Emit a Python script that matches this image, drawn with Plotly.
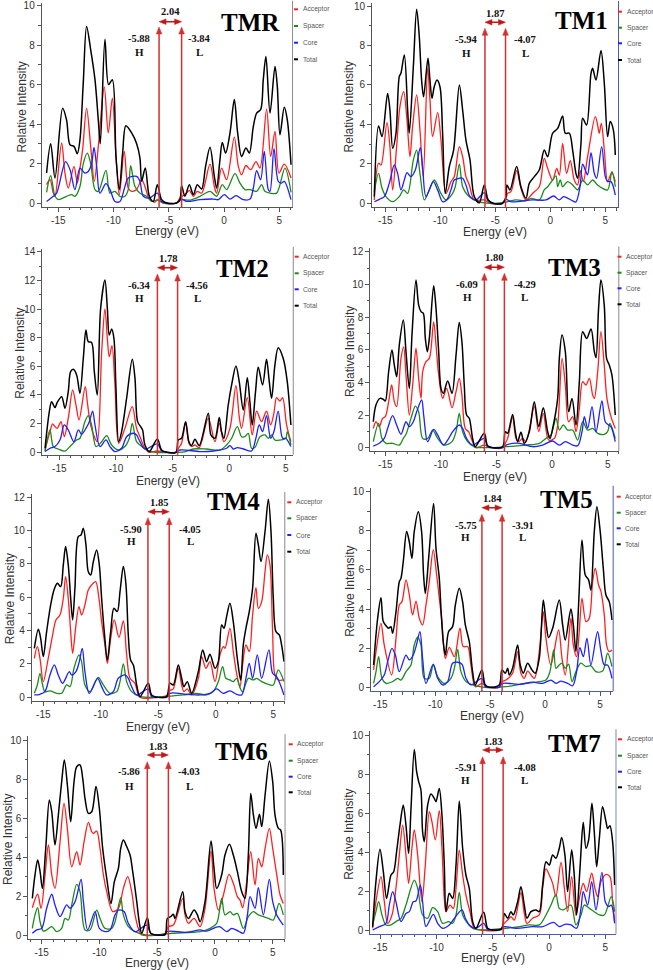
import plotly.graph_objects as go

# ---------------- data ----------------
PANELS = ["TMR", "TM1", "TM2", "TM3", "TM4", "TM5", "TM6", "TM7"]
SERIES = ["Acceptor", "Spacer", "Core", "Total"]
HOMO = [-5.88, -5.94, -6.34, -6.09, -5.90, -5.75, -5.86, -5.91]
LUMO = [-3.84, -4.07, -4.56, -4.29, -4.05, -3.91, -4.03, -4.08]
GAP = ["2.04", "1.87", "1.78", "1.80", "1.85", "1.84", "1.83", "1.83"]
HOMO_TXT = ["-5.88", "-5.94", "-6.34", "-6.09", "-5.90", "-5.75", "-5.86", "-5.91"]
LUMO_TXT = ["-3.84", "-4.07", "-4.56", "-4.29", "-4.05", "-3.91", "-4.03", "-4.08"]
X_TICKS = [-15, -10, -5, 0, 5]
X_TICK_TEXT = ["-15", "-10", "-5", "0", "5"]
Y_TOP_TICK = [10, 10, 14, 12, 12, 10, 10, 10]

TMR_total = [(-16.06,1.52),(-15.69,3.0),(-15.30,1.27),(-14.61,4.8),(-14.25,4.2),(-13.94,2.95),(-13.58,2.87),(-13.28,2.5),(-13.04,3.2),(-12.74,6.1),(-12.44,8.95),(-12.07,7.77),(-11.68,6.25),(-11.38,4.2),(-11.20,3.0),(-10.78,8.3),(-10.45,6.0),(-10.11,6.25),(-9.78,2.36),(-9.48,0.68),(-9.18,2.53),(-8.88,3.92),(-8.36,3.55),(-7.91,3.0),(-7.61,2.28),(-7.46,1.1),(-7.13,1.77),(-6.76,0.34),(-6.40,0.08),(-6.04,0.93),(-5.65,0.17),(-5.2,0),(-4.3,0),(-3.99,0.17),(-3.84,0.88),(-3.54,0.34),(-3.14,0.93),(-2.78,0.42),(-2.42,0.93),(-2.03,0.71),(-1.67,1.86),(-1.27,2.82),(-0.88,1.35),(-0.67,0.76),(-0.37,2.2),(-0.16,3.07),(0.14,2.53),(0.54,3.55),(0.93,5.24),(1.23,3.55),(1.59,2.36),(1.98,2.79),(2.29,2.53),(2.65,3.88),(2.95,4.56),(3.31,4.73),(3.55,6.25),(3.79,7.43),(4.16,4.56),(4.61,6.92),(4.82,5.9),(5.06,3.46),(5.45,4.85),(5.72,4.22),(6.06,1.94)]
TMR_acceptor = [(-16.06,0.93),(-15.75,1.18),(-15.45,0.5),(-15.30,0.34),(-14.70,3.04),(-14.40,1.52),(-14.10,0.76),(-13.58,1.86),(-13.28,1.01),(-13.04,1.77),(-12.80,2.7),(-12.44,4.81),(-12.07,2.87),(-11.74,1.1),(-11.38,2.87),(-10.84,5.88),(-10.48,3.55),(-10.11,5.32),(-9.78,2.36),(-9.48,0.42),(-9.03,2.62),(-8.67,0.76),(-8.36,0.59),(-7.91,0.68),(-7.46,1.18),(-7.16,0.84),(-6.76,0.2),(-6.25,0.05),(-6.04,0.17),(-5.5,0),(-4.3,0),(-3.99,0.25),(-3.78,0.34),(-3.39,0.5),(-3.14,0.64),(-2.78,0.34),(-2.42,0.59),(-2.03,0.5),(-1.27,1.97),(-0.88,0.84),(-0.67,0.5),(-0.22,1.77),(0.23,1.18),(0.93,3.34),(1.29,1.86),(1.59,1.43),(1.98,1.9),(2.41,1.69),(2.89,2.1),(3.25,1.77),(3.85,4.76),(4.22,2.36),(4.61,3.63),(4.97,1.52),(5.45,1.97),(6.06,1.27)]
TMR_spacer = [(-16.06,0.54),(-15.69,1.38),(-15.30,0.34),(-15.0,0.17),(-14.25,0.34),(-13.79,0.42),(-13.49,0.34),(-13.04,0.84),(-12.74,2.0),(-12.38,2.53),(-12.07,2.0),(-11.68,0.68),(-11.38,0.59),(-10.69,1.65),(-10.32,0.5),(-9.87,0.59),(-9.42,0.34),(-8.97,0.34),(-8.67,0.68),(-8.45,1.89),(-8.06,0.84),(-7.61,0.5),(-7.01,0.34),(-6.55,0.08),(-6.04,0.15),(-5.5,0),(-4.3,0),(-3.84,0.17),(-3.08,0.15),(-2.18,0.34),(-1.27,0.59),(-0.67,0.34),(-0.16,0.93),(0.23,0.68),(0.99,1.49),(1.44,1.01),(1.89,0.68),(2.35,0.68),(2.95,0.59),(3.40,0.93),(3.70,0.59),(4.16,0.5),(4.76,0.5),(5.51,1.77),(6.06,0.54)]
TMR_core = [(-16.06,0.08),(-15.45,0.34),(-15.15,0.5),(-14.34,2.1),(-13.94,1.69),(-13.49,0.68),(-13.04,1.77),(-12.59,1.52),(-12.29,1.6),(-11.98,2.0),(-11.77,2.82),(-11.53,1.86),(-11.23,0.5),(-10.69,0.98),(-10.32,0.68),(-9.87,0.08),(-9.42,0.08),(-8.97,0.84),(-8.67,1.27),(-7.91,1.35),(-7.61,1.1),(-7.31,0.34),(-6.76,0.25),(-6.04,0.5),(-5.65,0.08),(-5.2,0),(-4.3,0),(-3.84,0.2),(-3.39,0.08),(-2.18,0.17),(-0.97,0.2),(-0.52,0.17),(0.02,0.42),(0.54,0.2),(1.08,0.37),(1.74,0.17),(2.35,0.2),(2.65,0.76),(2.95,1.64),(3.31,1.18),(3.64,2.62),(4.0,0.68),(4.16,0.59),(4.52,2.75),(4.91,1.1),(5.21,1.01),(5.45,1.1),(6.06,0.17)]

TM1_total = [(-16.0,0.34),(-15.61,3.92),(-15.30,3.38),(-14.79,5.57),(-14.58,4.73),(-14.33,2.79),(-14.03,3.55),(-13.73,6.42),(-13.58,6.59),(-13.27,7.52),(-12.97,4.73),(-12.82,3.55),(-12.45,6.93),(-12.15,9.83),(-11.91,8.45),(-11.70,6.25),(-11.52,5.4),(-11.12,7.35),(-10.94,6.25),(-10.76,5.32),(-10.55,5.91),(-10.30,6.25),(-10.03,5.91),(-9.79,3.55),(-9.55,0.5),(-9.18,1.86),(-8.79,2.7),(-8.27,6.0),(-7.97,4.73),(-7.67,3.2),(-7.30,2.2),(-6.91,0.34),(-6.45,0.03),(-6.0,0.93),(-5.64,0.17),(-5.2,0),(-4.33,0),(-4.03,0.34),(-3.94,0.93),(-3.67,0.68),(-3.06,1.86),(-2.67,0.84),(-2.21,0.25),(-1.91,1.01),(-1.45,1.35),(-1.0,1.69),(-0.55,2.7),(-0.24,2.36),(0.21,3.55),(0.67,3.8),(1.12,4.43),(1.36,3.55),(1.73,3.55),(2.03,2.7),(2.33,1.52),(2.48,1.27),(2.79,3.04),(2.94,4.31),(3.30,3.97),(3.70,6.59),(3.85,6.84),(4.15,6.25),(4.61,7.74),(4.91,6.08),(5.21,3.38),(5.45,4.14),(5.73,3.72),(5.91,2.45)]
TM1_acceptor = [(-16.0,0.17),(-15.61,2.03),(-15.39,1.94),(-14.85,4.09),(-14.58,2.87),(-14.33,0.68),(-13.97,2.87),(-13.67,4.9),(-13.33,5.66),(-13.03,4.22),(-12.76,2.36),(-12.52,3.88),(-12.15,5.49),(-11.85,3.72),(-11.55,1.35),(-11.15,6.84),(-10.94,5.24),(-10.70,3.38),(-10.24,4.6),(-9.94,3.21),(-9.48,0.5),(-9.03,1.1),(-8.73,1.35),(-8.27,2.87),(-7.97,2.36),(-7.67,1.35),(-7.36,0.93),(-6.91,0.17),(-6.0,0.17),(-5.5,0),(-4.4,0),(-4.03,0.25),(-3.88,0.5),(-3.58,0.59),(-3.06,1.66),(-2.67,0.76),(-2.21,0.17),(-1.61,0.5),(-1.0,0.84),(-0.55,2.28),(-0.24,1.77),(0.21,1.18),(0.58,1.77),(0.82,1.43),(1.12,3.04),(1.48,1.52),(1.82,2.16),(2.18,1.18),(2.48,0.93),(2.73,1.66),(3.0,1.1),(3.39,2.36),(4.09,4.39),(4.30,3.97),(4.45,3.55),(4.64,4.05),(4.91,2.7),(5.21,1.1),(5.58,1.55),(5.91,1.1)]
TM1_spacer = [(-16.0,0.59),(-15.61,1.52),(-15.30,0.76),(-14.94,0.34),(-14.33,0.08),(-13.73,0.34),(-13.33,0.68),(-12.97,0.5),(-12.45,2.2),(-12.15,2.7),(-11.85,1.52),(-11.45,0.17),(-11.0,0.68),(-10.55,1.18),(-9.94,0.5),(-9.48,0.17),(-8.88,0.5),(-8.64,0.84),(-8.27,1.99),(-7.97,0.84),(-7.52,0.42),(-6.91,0.17),(-6.3,0.05),(-5.0,0),(-3.88,0.08),(-3.12,0.17),(-2.21,0.13),(-1.76,0.25),(-1.0,0.17),(-0.55,0.68),(-0.24,0.84),(0.21,1.18),(0.52,1.39),(0.67,0.84),(0.91,1.18),(1.12,0.84),(1.58,1.1),(2.03,0.93),(2.48,0.68),(2.94,1.18),(3.39,0.93),(3.85,1.18),(4.30,0.93),(4.76,0.76),(5.21,0.68),(5.61,1.6),(5.91,0.84)]
TM1_core = [(-16.0,0.08),(-15.55,0.2),(-15.09,0.34),(-14.64,1.01),(-14.18,1.94),(-13.88,1.52),(-13.58,0.68),(-13.27,1.18),(-13.03,1.55),(-12.67,1.35),(-12.27,1.69),(-11.82,2.82),(-11.61,1.86),(-11.30,0.34),(-10.64,1.1),(-10.24,0.68),(-9.79,0.08),(-9.42,0.17),(-9.03,0.68),(-8.73,1.18),(-8.27,1.27),(-7.97,1.27),(-7.67,0.93),(-7.30,0.34),(-6.76,0.17),(-6.0,0.54),(-5.70,0.17),(-5.2,0),(-4.4,0),(-4.03,0.2),(-3.58,0.08),(-1.61,0.17),(-0.39,0.17),(0.30,0.37),(0.82,0.17),(1.21,0.34),(2.03,0.12),(2.33,0.07),(2.70,0.84),(2.94,1.98),(3.24,1.6),(3.39,1.44),(3.70,2.57),(4.0,1.52),(4.21,1.27),(4.67,2.87),(5.0,1.35),(5.21,1.1),(5.52,1.1),(5.91,0.42)]

TM2_total = [(-16.26,0.28),(-15.88,2.84),(-15.68,3.53),(-15.38,3.12),(-15.18,3.49),(-14.79,3.88),(-14.50,3.07),(-14.21,4.23),(-14.0,5.63),(-13.76,5.79),(-13.47,5.4),(-13.18,4.12),(-12.88,6.56),(-12.65,8.53),(-12.44,7.72),(-12.15,7.67),(-11.91,5.63),(-11.65,4.0),(-11.35,10.05),(-10.97,12.02),(-10.76,10.05),(-10.59,8.19),(-10.38,8.6),(-10.18,7.95),(-10.0,4.47),(-9.76,0.74),(-9.5,1.44),(-9.06,3.77),(-8.56,6.49),(-8.32,5.16),(-8.09,2.14),(-7.82,1.79),(-7.65,1.56),(-7.44,0.51),(-7.06,0.05),(-6.35,0.93),(-5.97,0.16),(-5.5,0),(-4.71,0),(-4.5,0.86),(-4.21,0.98),(-3.85,2.14),(-3.56,0.74),(-3.32,0.47),(-3.03,0.91),(-2.65,0.47),(-1.85,2.72),(-1.62,1.21),(-1.26,0.98),(-0.88,2.42),(-0.68,1.44),(-0.47,0.98),(-0.09,3.3),(0.21,4.7),(0.59,6.02),(0.88,4.93),(1.24,2.95),(1.59,5.21),(1.82,3.53),(2.03,1.91),(2.32,4.23),(2.56,5.93),(2.94,4.7),(3.29,6.49),(3.53,4.93),(3.74,3.77),(4.03,6.09),(4.32,7.3),(4.76,6.56),(5.12,4.93),(5.44,1.91)]
TM2_acceptor = [(-16.26,0.16),(-15.82,1.44),(-15.59,1.98),(-15.38,1.79),(-15.18,1.67),(-14.85,2.14),(-14.56,1.09),(-14.21,2.37),(-13.82,4.35),(-13.53,3.3),(-13.26,2.26),(-12.71,4.58),(-12.53,3.53),(-12.24,1.91),(-11.85,0.98),(-11.65,0.74),(-11.26,7.02),(-10.97,10.0),(-10.76,7.95),(-10.59,6.67),(-10.35,7.44),(-10.09,4.7),(-9.76,0.63),(-9.21,1.67),(-8.56,3.19),(-8.18,1.67),(-7.82,0.98),(-7.53,0.4),(-7.06,0),(-6.35,0.09),(-5.5,0),(-4.71,0),(-4.5,0.28),(-4.21,0.63),(-3.85,2.09),(-3.56,0.63),(-3.32,0.4),(-3.03,0.51),(-2.65,0.33),(-1.85,2.37),(-1.26,0.74),(-0.88,2.02),(-0.47,0.74),(0.06,1.67),(0.59,4.65),(0.88,2.49),(1.09,1.67),(1.59,3.81),(2.03,1.21),(2.41,2.88),(2.85,2.14),(3.29,2.88),(3.65,1.91),(3.94,2.72),(4.18,3.81),(4.47,3.58),(4.71,3.81),(5.06,1.91),(5.44,0.74)]
TM2_spacer = [(-16.26,0.05),(-15.82,1.56),(-15.53,0.4),(-15.09,0.23),(-14.50,0.09),(-14.06,0.4),(-13.47,0.86),(-13.18,0.98),(-12.74,2.14),(-12.44,2.56),(-12.15,1.91),(-11.76,0.4),(-11.26,0.74),(-10.82,1.16),(-10.38,0.51),(-9.79,0.16),(-9.21,0.4),(-8.82,0.98),(-8.56,2.02),(-8.18,0.74),(-7.88,0.51),(-7.29,0.16),(-6.5,0),(-4.5,0),(-3.85,0.05),(-3.18,0.23),(-2.0,0.23),(-0.82,0.16),(-0.24,0.51),(0.21,0.98),(0.71,1.79),(1.09,1.09),(1.38,1.09),(1.68,1.32),(1.97,0.28),(2.26,0.33),(2.71,1.09),(3.15,1.21),(3.44,0.98),(3.74,1.21),(4.03,0.86),(4.62,0.86),(5.0,0.98),(5.12,1.44),(5.44,0.51)]
TM2_core = [(-16.26,0.05),(-15.82,0.28),(-15.38,0.4),(-14.94,0.86),(-14.56,1.91),(-14.21,1.56),(-13.71,0.74),(-13.32,1.56),(-13.03,1.26),(-12.65,1.67),(-12.35,2.14),(-12.06,2.88),(-11.85,1.91),(-11.41,0.4),(-10.88,0.86),(-10.53,0.4),(-10.09,0.05),(-9.5,0.28),(-9.06,1.09),(-8.47,1.33),(-8.18,1.21),(-7.88,0.74),(-7.44,0.23),(-6.35,0.58),(-5.97,0.09),(-5.5,0),(-4.71,0),(-4.35,0.16),(-2.59,0.05),(-1.41,0.09),(-0.24,0.28),(0.06,0.47),(0.35,0.23),(0.71,0.33),(1.24,0.23),(1.97,0.09),(2.35,0.98),(2.65,1.91),(2.94,1.44),(3.29,2.56),(3.65,0.98),(3.94,1.44),(4.32,2.88),(4.71,0.98),(5.0,0.98),(5.21,0.74),(5.44,0.4)]

TM3_total = [(-16.08,1.59),(-15.84,2.61),(-15.48,3.02),(-15.18,2.96),(-15.0,2.86),(-14.70,4.65),(-14.40,5.98),(-14.19,5.06),(-13.98,4.35),(-13.74,6.29),(-13.38,7.82),(-13.14,5.88),(-12.84,3.63),(-12.60,6.9),(-12.24,10.27),(-12.0,8.73),(-11.79,8.33),(-11.58,8.22),(-11.40,6.69),(-11.22,5.88),(-11.04,6.69),(-10.65,9.92),(-10.44,8.53),(-10.20,5.88),(-9.99,3.63),(-9.78,3.33),(-9.39,4.08),(-9.0,3.33),(-8.64,5.67),(-8.35,7.67),(-8.11,6.49),(-7.90,3.84),(-7.69,2.0),(-7.45,1.8),(-7.15,0.57),(-6.91,0.06),(-6.10,0.88),(-5.80,0.12),(-5.3,0),(-4.45,0.06),(-4.21,0.98),(-4.0,0.88),(-3.55,2.04),(-3.31,0.98),(-3.10,0.37),(-2.80,0.94),(-2.50,0.27),(-2.05,0.98),(-1.60,2.82),(-1.21,1.29),(-0.79,2.45),(-0.40,0.98),(-0.19,0.57),(0.05,1.18),(0.50,3.02),(0.65,5.47),(0.89,6.9),(1.19,5.88),(1.49,2.2),(1.79,3.02),(2.15,1.39),(2.45,4.04),(2.75,7.1),(3.11,6.69),(3.50,7.27),(3.80,5.88),(3.95,5.51),(4.18,8.53),(4.39,10.27),(4.69,8.73),(4.90,5.47),(5.14,5.06),(5.38,4.45),(5.68,2.0)]
TM3_acceptor = [(-16.08,1.18),(-15.84,1.59),(-15.54,1.29),(-15.24,1.8),(-15.0,1.9),(-14.70,2.82),(-14.43,3.84),(-14.19,2.82),(-13.98,2.51),(-13.59,5.47),(-13.35,6.18),(-13.14,4.45),(-12.84,2.0),(-12.54,3.84),(-12.24,6.08),(-12.0,4.24),(-11.79,3.02),(-11.64,4.65),(-11.34,5.27),(-11.04,5.47),(-10.65,7.71),(-10.44,6.29),(-10.20,4.45),(-9.84,3.02),(-9.48,3.63),(-9.0,2.45),(-8.64,3.43),(-8.35,4.24),(-8.11,3.22),(-7.81,1.18),(-7.51,0.98),(-7.15,0.37),(-6.85,0),(-6.10,0.16),(-5.5,0),(-4.45,0),(-4.21,0.27),(-4.0,0.57),(-3.55,1.84),(-3.25,0.57),(-3.01,0.37),(-2.65,0.57),(-2.35,0.37),(-1.60,2.51),(-1.21,0.98),(-0.79,2.1),(-0.31,0.47),(0.20,0.57),(0.50,1.39),(0.89,5.47),(1.19,3.84),(1.49,1.59),(1.85,1.9),(2.15,0.98),(2.45,2.41),(2.75,4.04),(3.05,3.84),(3.35,4.24),(3.65,3.22),(3.80,3.02),(4.10,4.65),(4.39,7.1),(4.69,5.06),(4.93,3.02),(5.29,1.9),(5.68,1.18)]
TM3_spacer = [(-16.08,0.37),(-15.60,1.49),(-15.30,0.57),(-14.94,0.27),(-14.34,0.27),(-13.74,0.16),(-13.38,0.57),(-13.14,0.82),(-12.69,1.8),(-12.30,2.55),(-12.0,2.2),(-11.64,0.57),(-11.19,0.57),(-10.74,1.08),(-10.29,0.57),(-9.69,0.16),(-9.0,0.37),(-8.64,0.98),(-8.35,2.1),(-8.05,0.98),(-7.60,0.37),(-7.0,0.05),(-6.0,0),(-4.15,0.06),(-2.35,0.16),(-1.15,0.27),(-0.55,0.57),(-0.10,0.78),(0.35,1.8),(0.65,1.08),(1.01,1.39),(1.40,1.08),(1.85,1.08),(2.30,0.47),(2.75,1.59),(3.20,1.08),(3.65,1.18),(4.10,0.88),(4.69,0.82),(4.99,0.98),(5.20,1.49),(5.68,0.57)]
TM3_core = [(-16.08,0.1),(-15.54,0.27),(-15.09,0.57),(-14.79,1.18),(-14.34,1.96),(-13.98,1.39),(-13.59,0.82),(-13.14,1.59),(-12.84,1.29),(-12.48,1.59),(-12.18,2.2),(-11.73,2.92),(-11.55,2.0),(-11.19,0.37),(-10.65,1.12),(-10.29,0.78),(-9.78,0.16),(-9.39,0.47),(-8.94,0.98),(-8.35,1.39),(-8.05,1.18),(-7.69,0.57),(-7.15,0.16),(-6.10,0.57),(-5.80,0.06),(-5.3,0),(-4.45,0),(-4.15,0.16),(-2.95,0.27),(-1.75,0.06),(-0.85,0.16),(0.05,0.41),(0.65,0.16),(1.19,0.37),(1.85,0.16),(2.30,0.12),(2.69,0.98),(2.90,1.9),(3.20,1.18),(3.59,2.51),(3.95,0.98),(4.48,2.86),(4.78,1.59),(5.08,1.39),(5.29,1.29),(5.68,0.37)]

TM4_total = [(-15.78,2.94),(-15.43,4.08),(-15.23,3.54),(-15.0,2.44),(-14.71,3.94),(-14.36,5.54),(-14.07,6.44),(-13.78,6.84),(-13.49,6.64),(-13.26,7.94),(-13.06,9.04),(-12.83,7.94),(-12.62,5.94),(-12.45,4.64),(-12.25,6.54),(-11.96,9.64),(-11.72,9.74),(-11.52,10.14),(-11.29,9.14),(-11.09,7.54),(-10.88,7.34),(-10.65,8.14),(-10.36,8.84),(-10.13,7.94),(-9.93,5.94),(-9.70,3.94),(-9.43,2.24),(-9.14,3.94),(-8.86,5.34),(-8.57,5.14),(-8.33,6.34),(-8.04,7.84),(-7.81,6.74),(-7.61,3.74),(-7.41,2.24),(-7.17,1.94),(-6.88,0.74),(-6.59,0.04),(-5.87,0.84),(-5.58,0.14),(-5.0,0),(-4.28,0.04),(-3.99,0.84),(-3.70,0.74),(-3.26,1.94),(-2.97,1.14),(-2.77,0.64),(-2.48,0.94),(-2.10,0.24),(-1.52,1.54),(-1.14,2.84),(-0.80,2.14),(-0.51,2.58),(-0.07,1.74),(0.22,2.14),(0.51,4.34),(0.71,4.14),(0.94,4.84),(1.23,5.64),(1.52,4.54),(1.87,2.34),(2.16,1.04),(2.39,3.14),(2.62,4.14),(2.91,5.14),(3.20,6.54),(3.49,9.84),(3.70,9.14),(3.93,8.14),(4.28,9.94),(4.57,11.88),(4.80,9.94),(5.0,5.94),(5.23,3.94),(5.52,3.74),(5.72,3.14),(5.93,2.14)]
TM4_acceptor = [(-15.78,2.34),(-15.52,3.04),(-15.29,2.34),(-15.0,0.94),(-14.57,2.34),(-14.19,3.74),(-13.90,4.64),(-13.55,4.94),(-13.26,5.94),(-13.06,7.24),(-12.83,5.94),(-12.62,3.94),(-12.45,2.64),(-12.16,4.34),(-11.90,5.44),(-11.67,4.94),(-11.38,5.54),(-11.09,6.44),(-10.80,6.74),(-10.45,6.94),(-10.16,5.94),(-9.93,4.54),(-9.64,3.14),(-9.43,2.04),(-9.14,3.54),(-8.83,4.64),(-8.42,3.6),(-8.04,4.58),(-7.75,2.54),(-7.46,1.14),(-7.03,0.84),(-6.59,0),(-5.0,0),(-4.28,0.1),(-3.99,0.4),(-3.70,0.5),(-3.26,1.74),(-2.97,0.74),(-2.77,0.34),(-2.48,0.5),(-2.10,0.14),(-1.52,1.14),(-1.23,2.44),(-0.86,1.74),(-0.51,2.14),(-0.07,0.94),(0.36,2.54),(0.65,3.04),(0.80,2.94),(1.23,4.14),(1.52,2.74),(1.81,1.44),(2.10,0.64),(2.33,1.94),(2.62,3.14),(2.91,2.74),(3.20,4.94),(3.49,6.58),(3.70,5.34),(3.99,5.74),(4.28,7.54),(4.48,8.54),(4.71,7.94),(4.94,3.94),(5.14,1.34),(5.43,1.04),(5.93,1.04)]
TM4_spacer = [(-15.78,0.24),(-15.52,0.74),(-15.29,1.44),(-15.06,0.74),(-14.86,0.34),(-14.42,0.38),(-13.84,0.24),(-13.41,0.24),(-12.97,0.74),(-12.68,0.64),(-12.33,1.74),(-11.90,2.54),(-11.67,2.14),(-11.38,0.74),(-10.94,0.34),(-10.22,1.2),(-9.78,0.74),(-9.20,0.24),(-8.62,0.34),(-8.33,0.94),(-8.04,2.0),(-7.75,0.94),(-7.32,0.34),(-6.6,0.05),(-5.0,0),(-4.28,0.04),(-2.83,0.14),(-1.67,0.24),(-0.80,0.14),(-0.22,0.34),(0.22,0.94),(0.59,1.84),(0.88,1.14),(1.23,1.04),(1.52,0.94),(1.81,1.14),(2.10,0.58),(2.33,0.34),(2.83,1.14),(3.26,1.04),(3.55,1.14),(3.99,0.94),(4.71,0.74),(5.0,0.74),(5.43,1.64),(5.93,0.94)]
TM4_core = [(-15.78,0.14),(-15.29,0.18),(-14.86,0.34),(-14.42,1.34),(-14.04,1.94),(-13.70,1.34),(-13.32,0.84),(-12.74,1.54),(-12.54,1.34),(-12.16,1.54),(-11.87,2.14),(-11.61,2.94),(-11.38,1.54),(-11.0,0.24),(-10.28,1.14),(-9.93,0.64),(-9.49,0.14),(-8.91,0.34),(-8.48,1.14),(-7.90,1.34),(-7.61,1.14),(-7.32,0.64),(-6.88,0.14),(-5.87,0.5),(-5.58,0.04),(-5.0,0),(-4.28,0),(-3.99,0.24),(-2.54,0.18),(-1.38,0.14),(-0.51,0.24),(0.07,0.5),(0.65,0.24),(1.23,0.38),(1.81,0.18),(2.25,0.14),(2.62,1.14),(2.91,2.04),(3.20,1.14),(3.61,2.54),(3.99,1.14),(4.62,2.84),(4.94,1.44),(5.29,1.24),(5.93,0.14)]

TM5_total = [(-15.61,1.14),(-15.24,3.53),(-14.94,4.58),(-14.73,3.36),(-14.48,3.15),(-14.24,3.02),(-14.03,3.1),(-13.88,2.76),(-13.57,3.87),(-13.27,5.4),(-13.12,5.57),(-12.91,6.42),(-12.60,7.96),(-12.36,7.44),(-12.12,6.59),(-11.91,7.96),(-11.54,8.98),(-11.24,7.96),(-11.06,5.74),(-10.90,4.8),(-10.60,6.59),(-10.15,9.4),(-9.93,7.1),(-9.63,5.57),(-9.48,4.04),(-9.27,2.33),(-9.08,1.65),(-8.78,2.85),(-8.42,3.1),(-8.17,4.2),(-7.81,5.06),(-7.51,4.38),(-7.26,3.19),(-6.90,2.33),(-6.60,0.8),(-6.35,0.12),(-5.75,0.89),(-5.44,0.12),(-5.0,0),(-4.17,0.12),(-3.93,0.89),(-3.62,0.72),(-3.41,0.97),(-3.26,0.63),(-2.96,0.97),(-2.50,2.16),(-2.26,1.14),(-1.98,0.72),(-1.59,1.23),(-1.20,0.89),(-0.89,0.72),(-0.53,1.48),(-0.16,4.46),(0.08,3.36),(0.32,2.54),(0.69,3.02),(1.29,4.46),(1.60,3.19),(1.84,2.42),(2.35,4.0),(2.57,3.19),(2.81,1.82),(3.05,4.21),(3.36,7.53),(3.66,5.74),(3.96,5.49),(4.17,4.97),(4.48,7.96),(4.72,9.23),(5.02,7.96),(5.30,6.08),(5.54,4.72),(5.84,4.38),(6.09,3.44)]
TM5_acceptor = [(-15.61,0.89),(-15.39,1.82),(-14.94,3.27),(-14.64,2.16),(-13.97,0.63),(-13.57,2.5),(-13.27,4.21),(-13.03,4.38),(-12.66,5.49),(-12.36,4.72),(-12.06,3.7),(-11.75,4.41),(-11.45,3.53),(-11.15,3.19),(-10.84,4.21),(-10.54,5.4),(-10.18,7.02),(-9.87,5.74),(-9.63,4.55),(-9.39,3.36),(-9.08,1.48),(-8.72,2.04),(-8.26,1.57),(-7.75,3.02),(-7.45,2.08),(-7.05,2.08),(-6.75,1.14),(-6.35,0.03),(-5.75,0.2),(-5.2,0),(-4.2,0),(-3.93,0.29),(-3.56,0.37),(-2.96,0.72),(-2.50,1.82),(-2.20,0.72),(-1.89,0.46),(-1.59,0.83),(-0.98,0.46),(-0.53,1.82),(-0.16,3.87),(0.08,2.5),(0.53,1.14),(1.23,2.93),(1.54,1.48),(1.84,0.63),(2.35,3.53),(2.57,2.16),(2.87,1.57),(3.11,2.84),(3.36,4.55),(3.72,3.36),(4.02,3.53),(4.33,5.4),(4.57,6.08),(4.87,5.23),(5.09,4.89),(5.39,3.7),(5.60,2.16),(5.84,1.82),(6.09,1.91)]
TM5_spacer = [(-15.61,0.2),(-15.39,0.8),(-15.15,1.57),(-14.85,0.46),(-14.48,0.2),(-13.88,0.29),(-13.42,0.46),(-13.12,0.37),(-12.66,0.8),(-12.21,1.14),(-11.91,2.16),(-11.60,2.56),(-11.30,2.16),(-11.0,0.46),(-10.54,0.46),(-10.18,1.14),(-9.78,0.55),(-9.17,0.2),(-8.57,0.46),(-8.26,0.97),(-7.96,1.94),(-7.66,0.8),(-7.20,0.29),(-6.60,0.12),(-5.5,0),(-4.2,0),(-3.56,0.03),(-1.74,0.2),(-0.53,0.29),(0.08,0.37),(0.44,0.8),(0.78,1.91),(0.99,0.97),(1.29,1.14),(1.54,1.23),(1.84,0.97),(2.14,1.18),(2.45,0.29),(2.81,0.8),(3.26,1.23),(3.72,1.06),(4.17,1.1),(4.63,0.8),(5.24,0.83),(5.69,1.74),(6.09,1.06)]
TM5_core = [(-15.61,0.03),(-15.09,0.29),(-14.64,0.63),(-14.33,1.31),(-13.94,1.99),(-13.63,1.65),(-13.27,0.8),(-12.66,1.65),(-12.36,1.4),(-12.0,1.65),(-11.75,2.08),(-11.39,2.84),(-11.15,1.48),(-10.84,0.2),(-10.18,1.19),(-9.78,0.46),(-9.33,0.12),(-8.87,0.29),(-8.42,1.23),(-7.96,1.28),(-7.57,1.18),(-7.20,0.46),(-6.75,0.12),(-5.75,0.46),(-5.44,0.03),(-5.0,0),(-4.2,0),(-3.87,0.2),(-2.35,0.15),(-1.13,0.26),(-0.22,0.2),(0.53,0.37),(0.99,0.2),(1.44,0.32),(2.05,0.2),(2.51,0.08),(2.87,0.8),(3.17,2.03),(3.48,1.57),(3.81,2.5),(4.17,1.14),(4.78,2.84),(5.09,1.82),(5.39,1.14),(5.69,1.14),(6.09,0.46)]

TM6_total = [(-15.81,1.88),(-15.58,3.08),(-15.35,3.85),(-15.14,3.25),(-14.94,2.39),(-14.65,4.44),(-14.34,6.92),(-14.13,6.32),(-13.85,4.62),(-13.56,6.15),(-13.27,7.86),(-13.04,8.97),(-12.75,7.52),(-12.49,5.81),(-12.20,7.86),(-11.97,8.63),(-11.68,8.72),(-11.45,8.03),(-11.25,7.0),(-10.96,6.24),(-10.67,6.32),(-10.30,7.61),(-10.01,6.5),(-9.72,4.44),(-9.37,2.91),(-9.0,1.62),(-8.71,2.74),(-8.36,3.42),(-8.16,4.44),(-7.93,4.87),(-7.64,4.53),(-7.35,4.1),(-7.12,3.25),(-6.77,1.71),(-6.54,0.6),(-6.34,0.09),(-5.85,0.89),(-5.56,0.09),(-5.0,0),(-4.32,0.03),(-4.12,0.85),(-3.83,0.94),(-3.60,1.06),(-3.46,0.85),(-2.79,2.22),(-2.59,1.2),(-2.30,0.85),(-1.81,1.28),(-1.52,1.03),(-1.29,0.68),(-0.86,1.71),(-0.34,4.82),(-0.08,3.42),(0.15,2.39),(0.58,3.08),(0.87,4.1),(1.25,4.65),(1.59,4.1),(1.94,3.25),(2.32,2.22),(2.60,1.88),(2.89,4.1),(3.10,7.26),(3.33,6.15),(3.56,5.47),(3.85,6.19),(4.05,5.56),(4.34,7.18),(4.71,8.92),(5.0,7.86),(5.20,6.15),(5.49,5.47),(5.69,5.38),(5.92,3.08)]
TM6_acceptor = [(-15.81,1.4),(-15.35,2.09),(-15.06,1.37),(-14.71,3.08),(-14.42,4.62),(-14.13,3.08),(-13.85,2.39),(-13.41,4.79),(-13.07,6.75),(-12.78,5.47),(-12.40,3.5),(-11.97,4.27),(-11.68,3.59),(-11.33,4.79),(-10.96,5.78),(-10.67,5.3),(-10.53,5.21),(-10.24,5.33),(-9.95,4.44),(-9.66,3.08),(-9.37,2.22),(-8.85,1.2),(-8.36,1.37),(-7.93,2.39),(-7.55,2.99),(-7.21,2.22),(-6.92,1.03),(-6.54,0.17),(-6.34,0),(-5.0,0),(-4.32,0.09),(-4.03,0.43),(-3.60,0.51),(-2.79,1.88),(-2.59,1.03),(-2.30,0.6),(-1.81,0.85),(-1.29,0.43),(-0.86,1.37),(-0.34,4.31),(-0.08,2.39),(0.30,1.28),(0.73,2.05),(1.22,3.11),(1.59,2.65),(1.94,1.97),(2.17,1.79),(2.40,1.4),(2.75,2.74),(3.10,4.27),(3.47,2.56),(3.76,3.93),(4.05,3.5),(4.34,4.44),(4.71,5.47),(5.0,4.44),(5.35,3.08),(5.64,2.05),(5.92,1.62)]
TM6_spacer = [(-15.81,0.34),(-15.58,1.03),(-15.35,1.4),(-15.14,0.68),(-14.86,0.2),(-14.57,0.26),(-14.13,0.43),(-13.70,0.17),(-13.27,0.34),(-12.98,0.85),(-12.69,0.77),(-12.40,1.54),(-11.97,2.6),(-11.68,2.22),(-11.25,0.26),(-10.82,0.26),(-10.24,1.28),(-9.95,0.85),(-9.52,0.34),(-8.94,0.34),(-8.65,0.68),(-8.16,1.91),(-7.93,1.03),(-7.50,0.43),(-6.92,0.17),(-6.0,0),(-3.60,0.09),(-1.29,0.17),(-0.43,0.34),(0.15,0.6),(0.58,1.88),(0.87,1.03),(1.31,1.2),(1.59,1.03),(1.94,1.11),(2.46,0.34),(2.89,0.94),(3.33,1.2),(3.76,1.03),(4.19,0.94),(4.63,0.85),(5.06,0.77),(5.55,1.62),(5.92,1.03)]
TM6_core = [(-15.81,0.09),(-15.43,0.26),(-15.0,0.34),(-14.57,1.37),(-14.13,2.09),(-13.85,1.54),(-13.41,0.94),(-12.84,1.54),(-12.55,1.37),(-12.11,1.71),(-11.59,2.85),(-11.39,1.71),(-11.02,0.26),(-10.38,1.2),(-10.01,0.34),(-9.52,0.17),(-9.08,0.26),(-8.65,1.03),(-8.36,1.28),(-7.87,1.2),(-7.50,0.6),(-6.92,0.17),(-5.91,0.51),(-5.56,0.09),(-5.0,0),(-4.32,0),(-4.18,0.17),(-2.45,0.14),(-1.29,0.26),(-0.71,0.2),(0.38,0.43),(1.02,0.17),(1.45,0.34),(2.03,0.2),(2.46,0.09),(2.81,1.03),(3.04,1.97),(3.47,1.37),(3.76,2.43),(4.19,1.03),(4.71,2.85),(5.0,1.71),(5.35,1.03),(5.92,0.51)]

TM7_total = [(-15.68,0.17),(-15.39,2.48),(-15.03,4.14),(-14.73,2.99),(-14.44,1.62),(-14.05,2.82),(-13.81,2.99),(-13.55,4.02),(-13.25,5.38),(-12.96,6.41),(-12.72,5.38),(-12.48,3.93),(-12.27,6.24),(-11.98,9.26),(-11.77,8.12),(-11.59,7.61),(-11.39,7.18),(-11.24,5.04),(-11.09,4.53),(-10.79,6.41),(-10.50,6.97),(-10.20,6.75),(-10.05,6.58),(-9.76,7.26),(-9.52,5.9),(-9.31,3.33),(-9.16,0.94),(-8.87,1.88),(-8.57,1.62),(-8.27,3.33),(-7.98,6.62),(-7.68,4.19),(-7.39,2.82),(-7.09,2.14),(-6.79,0.43),(-6.50,0.09),(-5.81,0.91),(-5.46,0.09),(-5.0,0),(-4.19,0.09),(-3.98,0.85),(-3.68,0.6),(-3.39,0.94),(-3.18,0.77),(-2.79,1.45),(-2.50,2.22),(-2.20,1.28),(-1.96,0.6),(-1.61,0.94),(-1.16,1.03),(-0.87,0.94),(-0.57,2.31),(-0.27,3.5),(0.02,3.33),(0.32,3.85),(0.61,3.68),(0.91,4.19),(1.12,4.74),(1.41,3.85),(1.65,1.97),(2.01,4.1),(2.24,2.82),(2.45,0.77),(2.75,3.16),(3.04,5.52),(3.28,4.19),(3.52,4.62),(3.81,6.5),(4.02,5.04),(4.23,3.25),(4.47,4.7),(4.76,6.32),(5.06,5.56),(5.21,5.21),(5.41,5.35),(5.65,4.53),(5.83,2.31)]
TM7_acceptor = [(-15.68,0.09),(-15.39,1.45),(-14.94,2.74),(-14.64,1.45),(-14.35,0.34),(-13.96,0.77),(-13.61,2.14),(-13.31,3.85),(-13.01,5.38),(-12.72,3.85),(-12.48,2.39),(-12.19,4.19),(-11.98,5.13),(-11.68,3.85),(-11.30,1.45),(-11.0,3.33),(-10.64,6.07),(-10.41,5.56),(-10.11,4.62),(-9.76,6.12),(-9.52,4.19),(-9.31,1.62),(-9.16,0.94),(-8.81,1.28),(-8.51,1.11),(-8.27,2.14),(-7.98,4.1),(-7.68,2.82),(-7.39,1.79),(-7.03,0.94),(-6.64,0.09),(-6.0,0),(-4.4,0),(-3.98,0.34),(-3.68,0.51),(-3.39,0.68),(-3.09,0.51),(-2.50,1.91),(-2.20,0.85),(-1.96,0.34),(-1.46,0.6),(-0.87,0.77),(-0.57,2.14),(-0.27,3.13),(0.02,2.82),(0.32,2.39),(0.61,1.71),(1.06,3.47),(1.36,2.14),(1.65,0.94),(2.01,2.74),(2.39,0.77),(2.75,1.79),(3.04,2.39),(3.34,1.97),(3.79,2.91),(4.08,2.14),(4.32,1.71),(4.61,2.48),(5.06,2.85),(5.41,2.74),(5.65,1.45),(5.83,0.43)]
TM7_spacer = [(-15.68,0.26),(-15.39,0.94),(-15.15,1.45),(-14.85,0.77),(-14.50,0.26),(-14.05,0.26),(-13.61,0.43),(-13.16,0.6),(-12.72,1.28),(-11.98,2.56),(-11.68,2.14),(-11.24,0.77),(-10.79,0.6),(-10.35,1.15),(-9.90,0.94),(-9.46,0.34),(-8.93,0.43),(-8.57,0.34),(-8.27,0.77),(-7.98,1.93),(-7.68,0.77),(-7.24,0.34),(-6.79,0.09),(-6.0,0),(-3.83,0.09),(-2.64,0.17),(-1.76,0.26),(-0.87,0.26),(-0.27,0.77),(0.17,1.28),(0.61,1.83),(0.91,1.11),(1.27,1.03),(1.95,1.28),(2.39,0.26),(2.84,0.77),(3.13,1.28),(3.58,1.11),(4.02,0.94),(4.47,0.77),(4.91,0.77),(5.53,1.71),(5.83,0.94)]
TM7_core = [(-15.68,0.0),(-15.09,0.17),(-14.50,0.34),(-14.20,1.28),(-13.90,1.97),(-13.61,1.45),(-13.16,0.43),(-12.72,0.85),(-12.42,0.94),(-12.07,1.45),(-11.83,1.49),(-11.44,2.31),(-11.24,1.45),(-10.94,0.17),(-10.29,0.8),(-9.90,0.34),(-9.46,0.09),(-8.87,0.26),(-8.42,0.6),(-7.74,1.03),(-7.44,0.6),(-7.09,0.26),(-6.50,0.09),(-5.81,0.34),(-5.46,0.03),(-5.0,0),(-4.3,0),(-3.98,0.17),(-2.94,0.09),(-1.46,0.17),(-0.57,0.17),(0.41,0.39),(0.91,0.17),(1.41,0.29),(1.95,0.26),(2.45,0.09),(2.84,1.11),(3.04,1.97),(3.43,1.28),(3.79,2.48),(4.17,1.03),(4.70,2.96),(5.0,1.45),(5.30,1.2),(5.53,1.28),(5.83,0.34)]

DATA = {
    "TMR": [TMR_acceptor, TMR_spacer, TMR_core, TMR_total],
    "TM1": [TM1_acceptor, TM1_spacer, TM1_core, TM1_total],
    "TM2": [TM2_acceptor, TM2_spacer, TM2_core, TM2_total],
    "TM3": [TM3_acceptor, TM3_spacer, TM3_core, TM3_total],
    "TM4": [TM4_acceptor, TM4_spacer, TM4_core, TM4_total],
    "TM5": [TM5_acceptor, TM5_spacer, TM5_core, TM5_total],
    "TM6": [TM6_acceptor, TM6_spacer, TM6_core, TM6_total],
    "TM7": [TM7_acceptor, TM7_spacer, TM7_core, TM7_total],
}

# ---------------- layout geometry (pixels) ----------------
W, H = 653, 970
# x px of E=-15, px per eV, x-range, y px of 0, px per unit, y-range
GEOM = [
    (58.3, 11.05, -16.5, 6.2, 203.0, 19.73, -0.2, 10.15),
    (385.3, 11.0, -16.2, 6.2, 203.3, 19.73, -0.2, 10.15),
    (59.3, 11.33, -16.5, 5.65, 452.3, 14.33, -0.17, 14.2),
    (385.3, 11.12, -16.35, 6.0, 447.7, 16.33, -0.2, 12.2),
    (43.3, 11.5, -16.0, 6.0, 697.3, 16.67, -0.2, 12.2),
    (380.3, 10.985, -15.85, 6.2, 687.3, 19.56, -0.2, 10.2),
    (41.7, 11.55, -16.16, 6.07, 935.0, 19.5, -0.2, 10.2),
    (380.3, 11.25, -15.89, 5.95, 930.0, 19.5, -0.2, 10.2),
]
# gap text y, horizontal arrow y, vertical tip y, value y, letter y, H offset, L offset
ANNO = [
    (11.7, 21.7, 27.0, 38.3, 51.7, -20, 18),
    (13.3, 22.3, 28.3, 39.3, 52.7, -18, 19.5),
    (258.3, 267.7, 274.0, 285.7, 297.7, -17.5, 19.7),
    (257.7, 267.3, 273.3, 284.3, 296.7, -17, 20.6),
    (502.3, 511.7, 517.7, 529.0, 541.0, -16.5, 20.8),
    (498.3, 507.7, 514.3, 525.0, 536.7, -16, 20.6),
    (746.7, 755.0, 761.7, 771.7, 785.7, -18, 21),
    (741.0, 750.0, 756.7, 767.3, 780.0, -16.6, 21.8),
]
LEGEND_POS = [
    (296, [9.3, 26, 42.7, 59.3]),
    (620, [11.7, 27.7, 43.3, 60]),
    (296.7, [256.7, 273.3, 289.3, 305.7]),
    (619.5, [256.7, 272.7, 288.3, 304.3]),
    (289.3, [502.3, 518.3, 535, 551.7]),
    (618.7, [496.7, 512.7, 528.3, 544.3]),
    (290.7, [744.3, 760.7, 776.7, 792.3]),
    (620, [739.3, 755.7, 771.7, 787.3]),
]
TITLE_POS = [(250.7, 22), (581, 20.7), (242.7, 268.3), (574.3, 267.7),
             (233.3, 501.7), (566, 500), (241.7, 751.7), (574.3, 743.3)]
YTITLE_X = [21.7, 349.3, 20, 349.3, 10, 349.3, 7.5, 348.3]
XTITLE_Y = [231, 232, 481, 476.5, 727, 715.5, 963, 958]
BORDER = ["#8a8a8a", "#4b5bbd", "#8a8a8a", "#8a8a8a", "#8a8a8a", "#4b5bbd", "#8a8a8a", "#7f86b8"]
XLINE = ["#555555", "#555555", "#555555", "#555555", "#555555", "#4b5bbd", "#555555", "#4b5bbd"]

COLORS = {"Acceptor": "#ff1f1f", "Spacer": "#1c8a1c", "Core": "#1f1fff", "Total": "#000000"}
WIDTHS = {"Acceptor": 1.3, "Spacer": 1.3, "Core": 1.3, "Total": 1.5}
VRED = "#d43030"
HRED = "#c01818"
SANS = "Liberation Sans"
SERIF = "Liberation Serif"


def fx(p):
    return p / W


def fy(p):
    return 1 - p / H


def tri(pts):
    return "M %f,%f L %f,%f L %f,%f Z" % (pts[0][0], pts[0][1], pts[1][0], pts[1][1], pts[2][0], pts[2][1])


fig = go.Figure()
annotations = []
shapes = []
layout_axes = {}

for i, name in enumerate(PANELS):
    a, s, xmin, xmax, y0, ys, ymin, ymax = GEOM[i]
    x0p = a + (xmin + 15) * s
    x1p = a + (xmax + 15) * s
    ybp = y0 - ymin * ys
    ytp = y0 - ymax * ys
    k = "" if i == 0 else str(i + 1)
    xa, ya = "x" + k, "y" + k
    yt = list(range(0, Y_TOP_TICK[i] + 1, 2))
    layout_axes["xaxis" + k] = dict(
        domain=[fx(x0p), fx(x1p)], range=[xmin, xmax], anchor=ya, automargin=False,
        showgrid=False, zeroline=False, showline=True, linecolor=XLINE[i], linewidth=1,
        ticks="outside", ticklen=4, tickwidth=1, tickcolor="#555",
        tickmode="array", tickvals=X_TICKS, ticktext=X_TICK_TEXT,
        tickfont=dict(family=SANS, size=10, color="#333"),
        minor=dict(tickmode="array", tickvals=list(range(-16, 7)), ticks="outside",
                   ticklen=2.5, tickcolor="#555"),
        fixedrange=True,
    )
    layout_axes["yaxis" + k] = dict(
        domain=[fy(ybp), fy(ytp)], range=[ymin, ymax], anchor=xa, automargin=False,
        showgrid=False, zeroline=False, showline=True, linecolor="#555", linewidth=1,
        ticks="outside", ticklen=4, tickwidth=1, tickcolor="#555",
        tickmode="array", tickvals=yt, ticktext=[str(v) for v in yt],
        tickfont=dict(family=SANS, size=10, color="#333"),
        minor=dict(tickmode="array", tickvals=list(range(0, Y_TOP_TICK[i] + 1)), ticks="outside",
                   ticklen=2.5, tickcolor="#555"),
        fixedrange=True,
    )
    for sname, series in zip(SERIES, DATA[name]):
        fig.add_trace(go.Scatter(
            x=[p[0] for p in series], y=[p[1] for p in series], mode="lines",
            line=dict(color=COLORS[sname], width=WIDTHS[sname], shape="spline", smoothing=0.9),
            xaxis=xa, yaxis=ya, showlegend=False, hoverinfo="skip", name=sname,
        ))

    # right frame line
    shapes.append(dict(type="line", xref="paper", yref="paper",
                       x0=fx(x1p), x1=fx(x1p), y0=fy(ybp), y1=fy(ytp - 2),
                       line=dict(color=BORDER[i], width=1)))

    # HOMO / LUMO markers (vertical arrows + gap double arrow)
    gy, hy, tipy, vy, ly, hoff, loff = ANNO[i]
    hx, lx = HOMO[i], LUMO[i]
    hw = 2.8 / s      # arrow-head half width in eV
    hl = 7.0          # arrow-head length in px
    for e in (hx, lx):
        shapes.append(dict(type="line", xref=xa, yref="paper", x0=e, x1=e,
                           y0=fy(ybp), y1=fy(tipy + hl - 1),
                           line=dict(color=VRED, width=1.5)))
        shapes.append(dict(type="path", xref=xa, yref="paper",
                           path=tri([(e - hw, fy(tipy + hl)), (e, fy(tipy)), (e + hw, fy(tipy + hl))]),
                           fillcolor=VRED, line=dict(color=VRED, width=0.5)))
    hlx = hl / s
    hwy = 2.8 / H
    shapes.append(dict(type="line", xref=xa, yref="paper", x0=hx + hlx * 0.8, x1=lx - hlx * 0.8,
                       y0=fy(hy), y1=fy(hy), line=dict(color=HRED, width=1.5)))
    shapes.append(dict(type="path", xref=xa, yref="paper",
                       path=tri([(hx + hlx, fy(hy) + hwy), (hx, fy(hy)), (hx + hlx, fy(hy) - hwy)]),
                       fillcolor=HRED, line=dict(color=HRED, width=0.5)))
    shapes.append(dict(type="path", xref=xa, yref="paper",
                       path=tri([(lx - hlx, fy(hy) + hwy), (lx, fy(hy)), (lx - hlx, fy(hy) - hwy)]),
                       fillcolor=HRED, line=dict(color=HRED, width=0.5)))

    annotations.append(dict(x=(hx + lx) / 2, y=fy(gy), xref=xa, yref="paper",
                            text="<b>%s</b>" % GAP[i], showarrow=False,
                            xanchor="center", yanchor="middle",
                            font=dict(family=SERIF, size=10.5, color="#111")))
    annotations.append(dict(x=hx, y=fy(vy), xref=xa, yref="paper", xshift=hoff,
                            text="<b>%s</b>" % HOMO_TXT[i], showarrow=False,
                            xanchor="center", yanchor="middle",
                            font=dict(family=SERIF, size=10.5, color="#111")))
    annotations.append(dict(x=hx, y=fy(ly), xref=xa, yref="paper", xshift=hoff,
                            text="<b>H</b>", showarrow=False,
                            xanchor="center", yanchor="middle",
                            font=dict(family=SERIF, size=11, color="#111")))
    annotations.append(dict(x=lx, y=fy(vy), xref=xa, yref="paper", xshift=loff,
                            text="<b>%s</b>" % LUMO_TXT[i], showarrow=False,
                            xanchor="center", yanchor="middle",
                            font=dict(family=SERIF, size=10.5, color="#111")))
    annotations.append(dict(x=lx, y=fy(ly), xref=xa, yref="paper", xshift=loff,
                            text="<b>L</b>", showarrow=False,
                            xanchor="center", yanchor="middle",
                            font=dict(family=SERIF, size=11, color="#111")))

    # panel label
    tx, ty = TITLE_POS[i]
    annotations.append(dict(x=fx(tx), y=fy(ty), xref="paper", yref="paper",
                            text="<b>%s</b>" % name, showarrow=False,
                            xanchor="center", yanchor="middle",
                            font=dict(family=SERIF, size=25, color="#000")))

    # axis titles
    annotations.append(dict(x=fx(YTITLE_X[i]), y=fy((ybp + ytp) / 2 + 2), xref="paper", yref="paper",
                            text="Relative Intensity", textangle=-90, showarrow=False,
                            xanchor="center", yanchor="middle",
                            font=dict(family=SANS, size=12, color="#333")))
    annotations.append(dict(x=fx((x0p + x1p) / 2), y=fy(XTITLE_Y[i]), xref="paper", yref="paper",
                            text="Energy (eV)", showarrow=False,
                            xanchor="center", yanchor="middle",
                            font=dict(family=SANS, size=12, color="#333")))

    # legend
    lgx, lgys = LEGEND_POS[i]
    for sname, lgy in zip(SERIES, lgys):
        shapes.append(dict(type="line", xref="paper", yref="paper",
                           x0=fx(lgx - 2), x1=fx(lgx + 2), y0=fy(lgy), y1=fy(lgy),
                           line=dict(color=COLORS[sname], width=2)))
        annotations.append(dict(x=fx(lgx + 4.5), y=fy(lgy), xref="paper", yref="paper",
                                text=sname, showarrow=False, xanchor="left", yanchor="middle",
                                font=dict(family=SANS, size=6.7, color="#555")))

fig.update_layout(
    template="none",
    width=W, height=H, autosize=False,
    margin=dict(l=0, r=0, t=0, b=0, pad=0, autoexpand=False),
    paper_bgcolor="white", plot_bgcolor="white",
    showlegend=False,
    font=dict(family=SANS, color="#333"),
    annotations=annotations, shapes=shapes,
    **layout_axes,
)

fig.write_html(
    "out.html",
    config={"displayModeBar": False, "staticPlot": True},
    post_script="document.body.style.margin='0';document.body.style.padding='0';"
                "document.body.style.overflow='hidden';"
                "document.documentElement.style.overflow='hidden';",
)
